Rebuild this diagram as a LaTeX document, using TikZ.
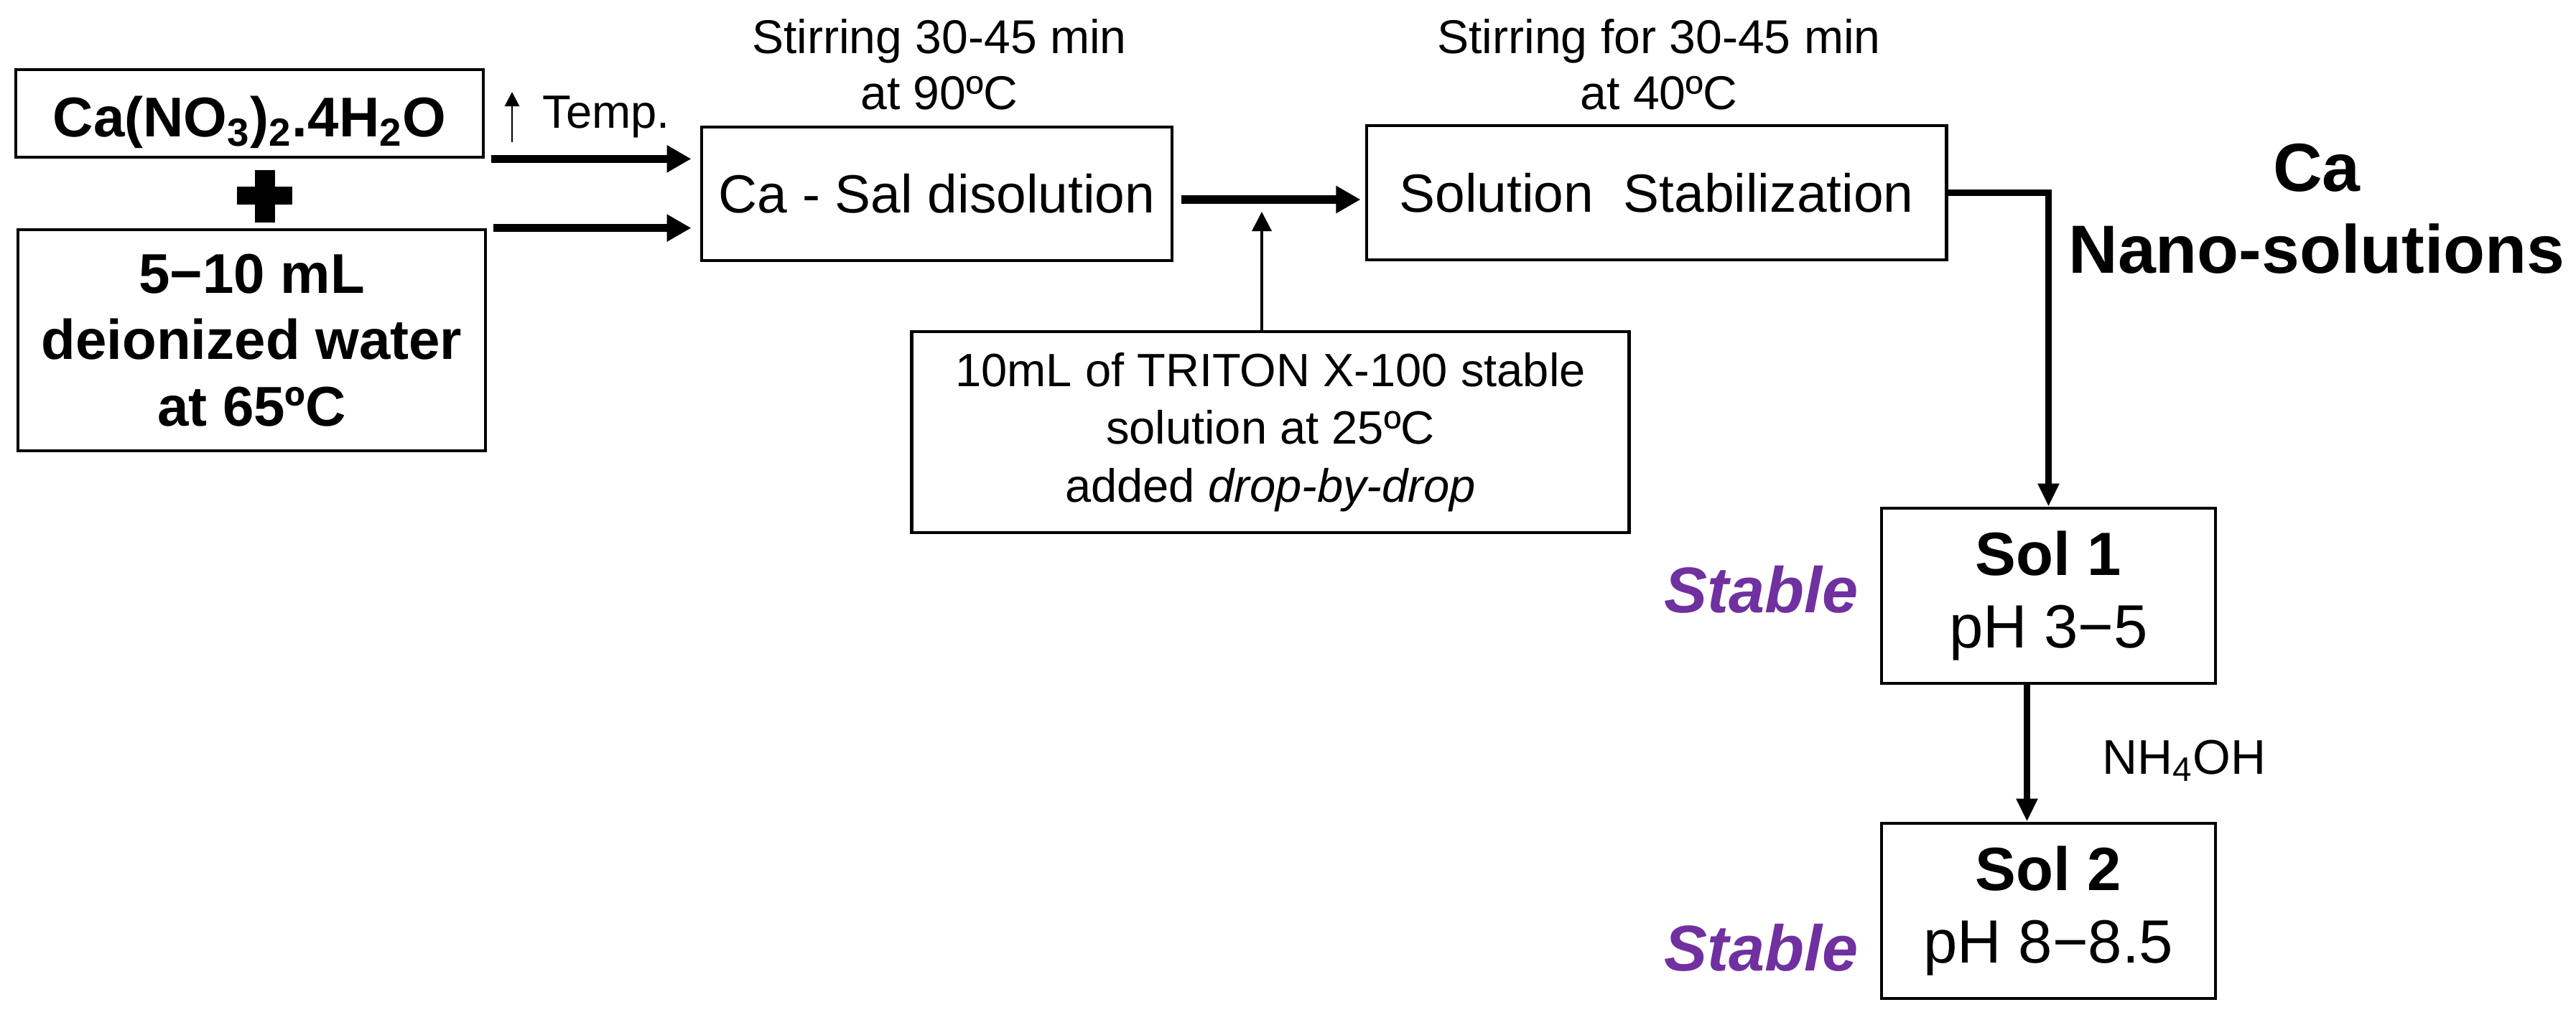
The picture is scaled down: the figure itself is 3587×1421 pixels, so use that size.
\documentclass[tikz,border=0pt]{standalone}
\usepackage{fontspec}
\setmainfont{Liberation Sans}
\usetikzlibrary{arrows.meta,calc}
\definecolor{stablepurple}{HTML}{7030A0}
\begin{document}
\begin{tikzpicture}[x=0.01cm,y=-0.01cm,
  box/.style={draw, line width=1.3pt, inner sep=0pt, align=center},
  boldbox/.style={box, font=\fontsize{22.2pt}{26.2pt}\selectfont\bfseries},
  stepbox/.style={box, font=\fontsize{21.3pt}{25pt}\selectfont},
  solbox/.style={box, minimum width=4.65cm, minimum height=2.44cm, font=\fontsize{24.2pt}{28.7pt}\selectfont},
  note/.style={inner sep=0pt, align=center, font=\fontsize{18.8pt}{22.2pt}\selectfont},
  stablelbl/.style={inner sep=0pt, text=stablepurple, font=\fontsize{25.6pt}{30pt}\selectfont\bfseries\itshape},
  bigarrow/.style={line width=3.2pt, -{Triangle[length=0.34cm,width=0.36cm]}},
  vconn/.style={line width=2.4pt, -{Triangle[length=0.32cm,width=0.28cm]}},
  thinarrow/.style={line width=1.1pt, -{Triangle[length=0.27cm,width=0.27cm]}},
  temparrow/.style={line width=0.8pt, -{Triangle[length=0.2cm,width=0.2cm]}}
]
\useasboundingbox (0,0) rectangle (3587,1421);
\fill[white] (0,0) rectangle (3587,1421);

% reactant boxes
\node[boldbox, minimum width=6.51cm, minimum height=1.22cm, text height=0.64cm, text depth=0cm]
  (salt) at (347.5,158) {Ca(NO\textsubscript{3})\textsubscript{2}.4H\textsubscript{2}O};
\node[boldbox, minimum width=6.51cm, minimum height=3.08cm]
  (water) at (350.5,474) {5−10 mL\\deionized water\\at 65ºC};
\fill (355,237) rectangle (383,310);
\fill (330,260) rectangle (407,285);

% temperature indicator
\coordinate (tb) at (713,198);
\coordinate (tt) at (713,128);
\draw[temparrow] (tb) -- (tt);
\node[inner sep=0pt, anchor=base west, font=\fontsize{18.5pt}{21pt}\selectfont] (temp) at (755,178) {Temp.};

% process boxes
\node[stepbox, minimum width=6.55cm, minimum height=1.86cm] (casal) at (1304.5,270) {Ca - Sal disolution};
\node[stepbox, minimum width=8.07cm, minimum height=1.87cm] (stab) at (2306.5,268.5) {Solution\ \ Stabilization};
\node[note] (stir1) at (1308,90) {Stirring 30-45 min\\at 90ºC};
\node[note] (stir2) at (2310,90) {Stirring for 30-45 min\\at 40ºC};

\node[box, minimum width=9.98cm, minimum height=2.8cm, font=\fontsize{18.5pt}{22.8pt}\selectfont]
  (triton) at (1769,602) {10mL of TRITON X-100 stable\\solution at 25ºC\\added \textit{drop-by-drop}};

% products
\node[inner sep=0pt, align=center, font=\fontsize{27pt}{32.4pt}\selectfont\bfseries] (nano) at (3226,291) {Ca\\Nano-solutions};
\node[solbox] (sol1) at (2852.5,830) {\textbf{Sol 1}\\pH 3−5};
\node[solbox] (sol2) at (2852.5,1269) {\textbf{Sol 2}\\pH 8−8.5};
\node[stablelbl, anchor=base east] (st1) at (2588,853) {Stable};
\node[stablelbl, anchor=base east] (st2) at (2588,1352) {Stable};
\node[inner sep=0pt, anchor=base west, font=\fontsize{19.3pt}{23pt}\selectfont] (nh) at (2927,1078) {NH\textsubscript{4}OH};

% connectors
\draw[bigarrow, shorten <=0.09cm, shorten >=0.12cm] (salt.south east) -- (casal.west |- salt.south east);
\draw[bigarrow, shorten <=0.09cm, shorten >=0.12cm] (water.north east) -- (casal.west |- water.north east);
\coordinate (j) at (1757,278);
\coordinate (jt) at (1757,295);
\draw[bigarrow, shorten <=0.1cm, shorten >=0.06cm] (casal.east |- j) -- (stab.west |- j);
\draw[thinarrow] (triton.north -| jt) -- (jt);
\draw[vconn] (stab.east) -| (sol1.north);
\draw[vconn] ([xshift=-0.3cm]sol1.south) -- ([xshift=-0.3cm]sol2.north);
\end{tikzpicture}
\end{document}
